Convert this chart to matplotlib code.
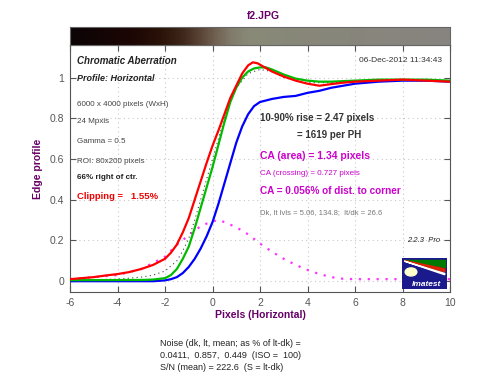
import numpy as np
import matplotlib
matplotlib.use("Agg")
import matplotlib.pyplot as plt
from matplotlib.colors import LinearSegmentedColormap, to_rgb

plt.rcParams['font.family'] = ['Liberation Sans', 'DejaVu Sans']
plt.rcParams['axes.unicode_minus'] = False

# ---- data ----
red_x = [-6, -5.5, -5, -4.5, -4, -3.5, -3, -2.5, -2, -1.75, -1.5, -1.25, -1, -0.75, -0.5, -0.25, 0, 0.25, 0.5, 0.75, 1, 1.25, 1.5, 1.7, 1.9, 2.2, 2.5, 3, 3.5, 4, 4.5, 5, 5.5, 6, 7, 8, 9, 10]
red_y = [0.01, 0.015, 0.02, 0.028, 0.035, 0.045, 0.06, 0.08, 0.11, 0.14, 0.18, 0.24, 0.31, 0.40, 0.49, 0.58, 0.665, 0.74, 0.82, 0.9, 0.96, 1.02, 1.06, 1.075, 1.07, 1.05, 1.03, 1.005, 0.985, 0.97, 0.96, 0.968, 0.975, 0.98, 0.985, 0.99, 0.985, 0.98]

green_x = [-6, -3, -2.5, -2, -1.75, -1.5, -1.25, -1, -0.75, -0.5, -0.25, 0, 0.25, 0.5, 0.75, 1, 1.25, 1.5, 1.75, 2, 2.25, 2.5, 3, 3.5, 4, 4.5, 5, 6, 7, 8, 9, 10]
green_y = [0.005, 0.006, 0.008, 0.015, 0.03, 0.06, 0.11, 0.17, 0.26, 0.36, 0.46, 0.56, 0.67, 0.78, 0.88, 0.95, 1.0, 1.03, 1.045, 1.05, 1.05, 1.04, 1.015, 0.995, 0.985, 0.98, 0.98, 0.985, 0.99, 0.99, 0.99, 0.985]

blue_x = [-6, -2.5, -2, -1.75, -1.5, -1.25, -1, -0.75, -0.5, -0.25, 0, 0.25, 0.5, 0.75, 1, 1.25, 1.5, 1.75, 2, 2.5, 3, 3.5, 4, 4.5, 5, 5.5, 6, 6.5, 7, 8, 9, 10]
blue_y = [0.0, 0.0, 0.004, 0.01, 0.02, 0.04, 0.07, 0.11, 0.16, 0.22, 0.29, 0.38, 0.48, 0.58, 0.68, 0.76, 0.82, 0.86, 0.88, 0.895, 0.905, 0.91, 0.925, 0.935, 0.95, 0.96, 0.97, 0.975, 0.98, 0.985, 0.985, 0.98]

lum_x = [-6, -4, -3, -2.5, -2, -1.5, -1.25, -1, -0.75, -0.5, -0.25, 0, 0.25, 0.5, 0.75, 1, 1.5, 2, 2.5, 3, 4, 5, 6, 8, 10]
lum_y = [0.005, 0.01, 0.02, 0.03, 0.05, 0.1, 0.15, 0.21, 0.3, 0.4, 0.5, 0.6, 0.7, 0.8, 0.89, 0.95, 1.02, 1.04, 1.03, 1.0, 0.975, 0.975, 0.98, 0.985, 0.98]

diff_x = [-6, -4, -3, -2.5, -2, -1.5, -1, -0.5, 0, 0.3, 1, 1.5, 2, 2.5, 3, 3.5, 4, 4.5, 5, 5.5, 6, 7, 8, 9, 10]
diff_y = [0.01, 0.03, 0.06, 0.09, 0.12, 0.18, 0.225, 0.27, 0.295, 0.3, 0.265, 0.23, 0.185, 0.145, 0.11, 0.08, 0.055, 0.035, 0.02, 0.012, 0.01, 0.01, 0.01, 0.01, 0.01]

strip_x = [-6, -4.74, -3.47, -2.21, -1.37, -0.53, 0.1, 0.74, 1.58, 3.68, 10]
strip_c = ['#0c0405', '#140505', '#1c0604', '#2a1208', '#3c2418', '#5a4436', '#706050', '#807a6a', '#8a8a78', '#878779', '#888480']

x_ticks = [-6, -4, -2, 0, 2, 4, 6, 8, 10]
y_ticks = [0, 0.2, 0.4, 0.6, 0.8, 1]
y_ticklabels = ['0', '0.2', '0.4', '0.6', '0.8', '1']

purple = '#660066'
magenta = '#cc00cc'
dark = '#333333'

fig = plt.figure(figsize=(5, 3.84), dpi=100)
ax = fig.add_axes([0.14, 0.2396, 0.76, 0.6432])
sax = fig.add_axes([0.14, 0.8828, 0.76, 0.0469])

# strip
pos = [(v - strip_x[0]) / (strip_x[-1] - strip_x[0]) for v in strip_x]
cmap = LinearSegmentedColormap.from_list('strip', list(zip(pos, [to_rgb(c) for c in strip_c])))
grad = np.linspace(0, 1, 400)[None, :]
sax.imshow(grad, aspect='auto', cmap=cmap, extent=[-6, 10, 0, 1])
sax.set_xticks([]); sax.set_yticks([])
for s in sax.spines.values():
    s.set_color('#666666')

# curves
ax.plot(diff_x, diff_y, color='#ff33ff', ls=(0, (1, 3)), lw=1.6, zorder=2)
ax.plot(lum_x, lum_y, color='#444444', ls=(0, (1, 3)), lw=0.8, zorder=3)
ax.plot(blue_x, blue_y, color='#0000ff', lw=1.6, zorder=4)
ax.plot(green_x, green_y, color='#00bb00', lw=1.6, zorder=5)
ax.plot(red_x, red_y, color='#ff0000', lw=1.6, zorder=6)

ax.set_xlim(-6, 10)
ax.set_ylim(-0.053, 1.16)
ax.set_xticks(x_ticks)
ax.set_yticks(y_ticks)
ax.set_yticklabels(y_ticklabels)
ax.tick_params(direction='in', top=True, right=True, length=4, labelsize=7.5, colors='#555555', labelcolor='#555555', pad=4)
ax.grid(True, color='#c8c8c8', ls=(0, (1, 3)), lw=0.8)
for s in ax.spines.values():
    s.set_color('#555555')

ax.set_xlabel('Pixels (Horizontal)', color=purple, fontweight='bold', fontsize=7.5, labelpad=2)
ax.set_ylabel('Edge profile', color=purple, fontweight='bold', fontsize=7.5, labelpad=5)
fig.text(0.526, 0.958, 'f2.JPG', color=purple, fontweight='bold', fontsize=7.5, ha='center', va='center')

def px(xp, yp):
    return (xp - 70) / 23.75 - 6, (281 - yp) / 203.5

def txt(xp, yp, s, **kw):
    x, y = px(xp, yp)
    ax.text(x, y, s, va='center', ha=kw.pop('ha', 'left'), zorder=10, **kw)

txt(77, 61, 'Chromatic Aberration', fontsize=7, fontweight='bold', style='italic', color='#222222')
txt(77, 78, 'Profile: Horizontal', fontsize=6.5, fontweight='bold', style='italic', color='#222222')
txt(77, 104, '6000 x 4000 pixels (WxH)', fontsize=5.8, color='#444444')
txt(77, 121, '24 Mpxls', fontsize=5.8, color='#444444')
txt(77, 141, 'Gamma = 0.5', fontsize=5.8, color='#444444')
txt(77, 161, 'ROI: 80x200 pixels', fontsize=5.8, color='#444444')
txt(77, 177, '66% right of ctr.', fontsize=5.8, fontweight='bold', color='#222222')
txt(77, 196, 'Clipping =   1.55%', fontsize=6.8, fontweight='bold', color='#ee0000')
txt(442, 60, '06-Dec-2012 11:34:43', fontsize=6, color='#333333', ha='right')
txt(260, 118, '10-90% rise = 2.47 pixels', fontsize=7, fontweight='bold', color=dark)
txt(297, 135, '= 1619 per PH', fontsize=7, fontweight='bold', color=dark)
txt(260, 156, 'CA (area) = 1.34 pixels', fontsize=7.5, fontweight='bold', color=magenta)
txt(260, 173, 'CA (crossing) = 0.727 pixels', fontsize=5.8, color=magenta)
txt(260, 191, 'CA = 0.056% of dist. to corner', fontsize=7.2, fontweight='bold', color=magenta)
txt(260, 212, 'Dk, lt lvls = 5.06, 134.8;  lt/dk = 26.6', fontsize=5.5, color='#777777')
txt(440, 240, '2.2.3  Pro', fontsize=5.5, style='italic', color='#222222', ha='right')

# logo (Imatest-like badge)
lax = fig.add_axes([402 / 500, 1 - 289 / 384, 45 / 500, 31 / 384])
lax.set_xlim(0, 1); lax.set_ylim(0, 1)
lax.add_patch(plt.Rectangle((0, 0), 1, 1, color='#1a1a8c'))
lax.add_patch(plt.Polygon([[0.05, 0.95], [0.95, 0.95], [0.95, 0.7]], color='#007a00'))
lax.add_patch(plt.Polygon([[0.05, 0.92], [0.95, 0.65], [0.95, 0.55]], color='#dd2200'))
lax.add_patch(plt.Polygon([[0.05, 0.9], [0.95, 0.5], [0.95, 0.46]], color='#ffffff'))
lax.add_patch(plt.Circle((0.2, 0.55), 0.13, color='#ffffcc', transform=lax.transAxes))
lax.text(0.55, 0.15, 'Imatest', color='white', fontsize=6, fontweight='bold', style='italic', ha='center', va='center')
lax.set_xticks([]); lax.set_yticks([])
for s in lax.spines.values():
    s.set_visible(False)

fig.text(160 / 500, 1 - 343 / 384, 'Noise (dk, lt, mean; as % of lt-dk) =', fontsize=6.5, color='#222222', va='center')
fig.text(160 / 500, 1 - 356 / 384, '0.0411,  0.857,  0.449  (ISO =  100)', fontsize=6.5, color='#222222', va='center')
fig.text(160 / 500, 1 - 368 / 384, 'S/N (mean) = 222.6  (S = lt-dk)', fontsize=6.5, color='#222222', va='center')

fig.savefig('out.png', dpi=100)
